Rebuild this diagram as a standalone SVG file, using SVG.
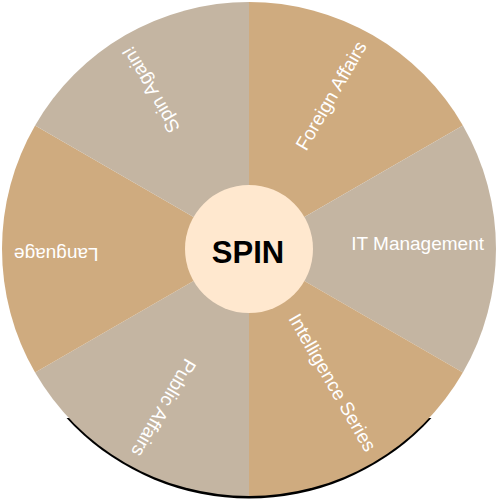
<svg xmlns="http://www.w3.org/2000/svg" width="499" height="500" viewBox="0 0 499 500">
  <style>
    .tan { fill: #CFAB7F; }
    .gray { fill: #C4B5A2; }
    .lbl { font-family: "Liberation Sans", Arial, sans-serif; font-size: 19px; fill: #FFFFFF; text-anchor: end; }
    .hub { fill: #FFE8CF; }
    .hubtxt { font-family: "Liberation Sans", Arial, sans-serif; font-size: 31px; font-weight: bold; fill: #000000; text-anchor: middle; }
  </style>
  <defs>
    <clipPath id="shadowClip">
      <rect x="0" y="418" width="499" height="82"/>
    </clipPath>
  </defs>
  <rect width="499" height="500" fill="#FFFFFF"/>
  <g id="shadow" clip-path="url(#shadowClip)">
    <circle cx="249" cy="251.5" r="247" fill="#000000"/>
  </g>
  <g id="seg-foreign-affairs">
    <path class="tan" d="M249,249 L249,2 A247,247 0 0,1 462.9,125.5 Z"/>
    <text class="lbl" x="484" y="250" transform="rotate(-60 249 249)">Foreign Affairs</text>
  </g>
  <g id="seg-it-management">
    <path class="gray" d="M249,249 L462.9,125.5 A247,247 0 0,1 462.9,372.5 Z"/>
    <text class="lbl" x="484" y="250">IT Management</text>
  </g>
  <g id="seg-intelligence-series">
    <path class="tan" d="M249,249 L462.9,372.5 A247,247 0 0,1 249,496 Z"/>
    <text class="lbl" x="484" y="250" transform="rotate(60 249 249)">Intelligence Series</text>
  </g>
  <g id="seg-public-affairs">
    <path class="gray" d="M249,249 L249,496 A247,247 0 0,1 35.1,372.5 Z"/>
    <text class="lbl" x="484" y="250" transform="rotate(120 249 249)">Public Affairs</text>
  </g>
  <g id="seg-language">
    <path class="tan" d="M249,249 L35.1,372.5 A247,247 0 0,1 35.1,125.5 Z"/>
    <text class="lbl" x="484" y="250" transform="rotate(180 249 249)">Language</text>
  </g>
  <g id="seg-spin-again">
    <path class="gray" d="M249,249 L35.1,125.5 A247,247 0 0,1 249,2 Z"/>
    <text class="lbl" x="484" y="250" transform="rotate(240 249 249)">Spin Again!</text>
  </g>
  <g id="hub">
    <circle class="hub" cx="249" cy="249" r="64"/>
    <text class="hubtxt" x="248" y="263">SPIN</text>
  </g>
</svg>
